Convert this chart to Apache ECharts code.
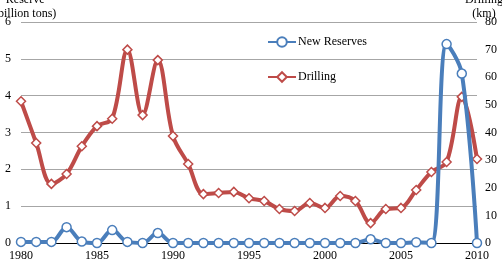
<!DOCTYPE html>
<html>
<head>
<meta charset="utf-8">
<script src="https://cdn.jsdelivr.net/npm/echarts@6/dist/echarts.min.js"></script>
<style>
  html, body { margin: 0; padding: 0; background: #fff; }
  #chart { width: 502px; height: 268px; }
</style>
</head>
<body>
<div id="chart"></div>
<script>
// 年份
var aYears = [];
for (var y = 1980; y <= 2010; y++) { aYears.push(String(y)); }

// 新增储量 (亿吨)，左轴
var aNewReserves = [0.03, 0.03, 0.03, 0.43, 0.04, 0.0, 0.35, 0.03, 0.0, 0.27,
    0.0, 0.0, 0.0, 0.0, 0.0, 0.0, 0.0, 0.0, 0.0, 0.0,
    0.0, 0.0, 0.0, 0.1, 0.0, 0.0, 0.02, 0.0, 5.4, 4.6, 0.0];

// 钻井进尺 (km)，右轴
var aDrilling = [51.3, 36.2, 21.4, 25, 35, 42.3, 45, 70, 46.3, 66.2,
    38.7, 28.6, 17.7, 18.1, 18.5, 16.2, 15.2, 12.3, 11.6, 14.5,
    12.7, 17, 15.2, 7.2, 12.3, 12.7, 19.2, 25.7, 29.3, 52.9, 30.4];

// 轴名
var sLeftName = 'Reserve\n(billion tons)';
var sRightName = 'Drilling\n(km)';

var sFont = 'Liberation Serif';
var sBlue = '#4a7ebb';
var sRed = '#be4b48';

var jOption = {
    animation: false,
    textStyle: { fontFamily: sFont },
    // 不让轴标签/轴名挤压绘图区
    grid: { left: 21, right: 25, top: 22, bottom: 25, containLabel: false, outerBoundsMode: 'none' },
    // 轴名用 graphic 画，原图顶部被截掉一半
    graphic: [
        {
            type: 'text', left: -6, top: -7,
            style: { text: sLeftName, font: '12px "Liberation Serif"', fill: '#000', textAlign: 'center', lineHeight: 14 }
        },
        {
            type: 'text', right: -1, top: -7,
            style: { text: sRightName, font: '12px "Liberation Serif"', fill: '#000', textAlign: 'center', lineHeight: 14 }
        }
    ],
    legend: {
        orient: 'vertical',
        left: 262,
        top: 31,
        itemWidth: 28,
        itemHeight: 12,
        itemGap: 23,
        textStyle: { fontFamily: sFont, fontSize: 12, color: '#000', padding: [0, 0, 0, -3] },
        data: ['New Reserves', 'Drilling']
    },
    xAxis: {
        type: 'category',
        boundaryGap: false,
        data: aYears,
        axisLine: { lineStyle: { color: '#000', width: 1 } },
        axisTick: { show: false },
        axisLabel: { interval: 4, fontSize: 12, color: '#000', margin: 7, fontFamily: sFont }
    },
    yAxis: [
        {   // 左轴：储量
            type: 'value',
            min: 0, max: 6, interval: 1,
            axisLine: { show: false },
            axisTick: { show: false },
            axisLabel: { fontSize: 12, color: '#000', margin: 10, fontFamily: sFont },
            splitLine: { lineStyle: { color: '#a6a6a6', width: 1 } }
        },
        {   // 右轴：进尺
            type: 'value',
            min: 0, max: 80, interval: 10,
            axisLine: { show: false },
            axisTick: { show: false },
            axisLabel: { fontSize: 12, color: '#000', margin: 8, fontFamily: sFont },
            splitLine: { show: false }
        }
    ],
    series: [
        {
            name: 'New Reserves',
            type: 'line',
            yAxisIndex: 0,
            smooth: 0.35,
            data: aNewReserves,
            symbol: 'circle',
            symbolSize: 9,
            lineStyle: { color: sBlue, width: 4 },
            itemStyle: { color: '#fff', borderColor: sBlue, borderWidth: 1.5 },
            z: 3
        },
        {
            name: 'Drilling',
            type: 'line',
            yAxisIndex: 1,
            smooth: 0.35,
            data: aDrilling,
            symbol: 'diamond',
            symbolSize: 9,
            lineStyle: { color: sRed, width: 4 },
            itemStyle: { color: '#fff', borderColor: sRed, borderWidth: 1.5 },
            z: 2
        }
    ]
};

var myChart = echarts.init(document.getElementById('chart'));
myChart.setOption(jOption);
</script>
</body>
</html>
